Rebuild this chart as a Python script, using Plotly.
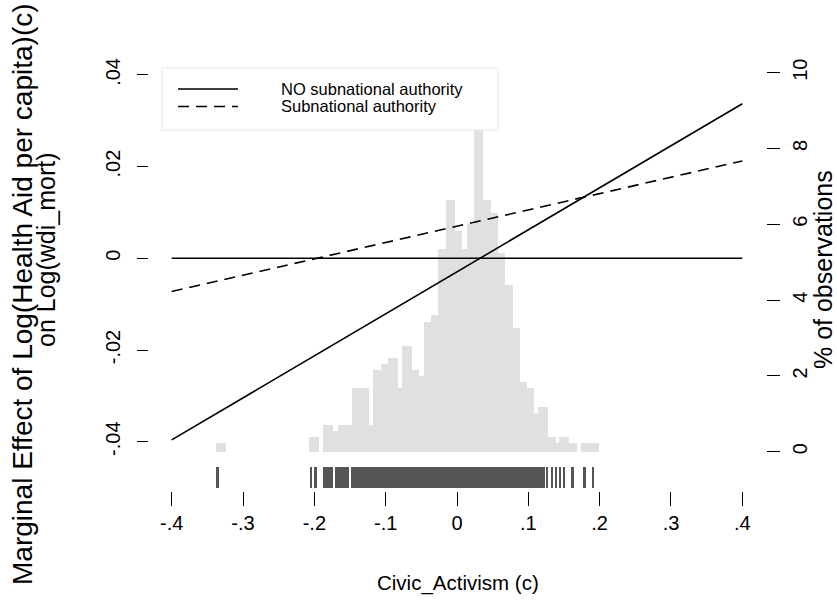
import plotly.graph_objects as go

# ---------------- data ----------------
# histogram of Civic_Activism (c): bin edges and % of observations
bin_left = [-0.3379, -0.2071, -0.1874, -0.1734, -0.1664, -0.1468, -0.1234, -0.1173,
            -0.1070, -0.0963, -0.0831, -0.0767, -0.0627, -0.0529, -0.0463, -0.0365,
            -0.0266, -0.0161, -0.0028, 0.0077, 0.0136, 0.0243, 0.0369, 0.0472,
            0.0579, 0.0673, 0.0778, 0.0883, 0.0977, 0.1080, 0.1140, 0.1280,
            0.1384, 0.1434, 0.1574, 0.1738]
bin_right = [-0.3238, -0.1930, -0.1734, -0.1664, -0.1476, -0.1234, -0.1173, -0.1070,
             -0.0963, -0.0831, -0.0767, -0.0627, -0.0529, -0.0463, -0.0365, -0.0266,
             -0.0161, -0.0028, 0.0077, 0.0136, 0.0243, 0.0369, 0.0472, 0.0579,
             0.0673, 0.0778, 0.0883, 0.0977, 0.1080, 0.1140, 0.1280, 0.1384,
             0.1434, 0.1574, 0.1678, 0.1991]
pct_obs = [0.23, 0.40, 0.70, 0.55, 0.70, 1.67, 0.70, 2.16,
           2.31, 2.46, 1.67, 2.79, 2.16, 2.00, 3.43, 3.60,
           5.35, 6.64, 5.82, 5.35, 6.00, 8.60, 6.64, 6.31,
           5.24, 4.40, 3.27, 1.83, 1.67, 1.03, 1.19, 0.40,
           0.22, 0.38, 0.22, 0.22]

# rug of observed Civic_Activism values (groups of marks)
rug_left = [-0.3383, -0.2061, -0.2005, -0.1874, -0.1710, -0.1486, 0.1244, 0.1318,
            0.1374, 0.1434, 0.1490, 0.1594, 0.1762, 0.1888]
rug_right = [-0.3337, -0.2029, -0.1967, -0.1743, -0.1514, 0.1234, 0.1272, 0.1336,
             0.1398, 0.1458, 0.1518, 0.1640, 0.1804, 0.1925]
rug_top = -0.04552
rug_bottom = -0.05003

# marginal effect lines
civic_x = [-0.4, 0.4]
me_no_subnational = [-0.0396, 0.0337]
me_subnational = [-0.00724, 0.02124]
zero_ref = [0.0, 0.0]

x_tick_vals = [-0.4, -0.3, -0.2, -0.1, 0.0, 0.1, 0.2, 0.3, 0.4]
x_tick_text = ["-.4", "-.3", "-.2", "-.1", "0", ".1", ".2", ".3", ".4"]
y_tick_vals = [-0.04, -0.02, 0.0, 0.02, 0.04]
y_tick_text = ["-.04", "-.02", "0", ".02", ".04"]
pct_tick_vals = [0, 2, 4, 6, 8, 10]
pct_tick_text = ["0", "2", "4", "6", "8", "10"]

legend_names = ["NO subnational authority", "Subnational authority"]
x_title = "Civic_Activism (c)"
y_title_lines = ["Marginal Effect of Log(Health Aid per capita)(c)", "on Log(wdi_mort)"]
y2_title = "% of observations"

# ---------------- figure ----------------
W, H = 837, 602
ML, MR, MT, MB = 149, 71, 60, 111
FONT = "Liberation Sans, Arial, Helvetica, sans-serif"

fig = go.Figure()

hist_x = [(a + b) / 2 for a, b in zip(bin_left, bin_right)]
hist_w = [b - a for a, b in zip(bin_left, bin_right)]
fig.add_trace(go.Bar(x=hist_x, y=pct_obs, width=hist_w, yaxis="y",
                     marker=dict(color="#e0e0e0", line=dict(width=0)),
                     showlegend=False, hoverinfo="skip"))

rug_x = [(a + b) / 2 for a, b in zip(rug_left, rug_right)]
rug_w = [b - a for a, b in zip(rug_left, rug_right)]
fig.add_trace(go.Bar(x=rug_x, y=[rug_top - rug_bottom] * len(rug_x),
                     base=[rug_bottom] * len(rug_x), width=rug_w, yaxis="y2",
                     marker=dict(color="#555555", line=dict(width=0)),
                     showlegend=False, hoverinfo="skip"))

fig.add_trace(go.Scatter(x=civic_x, y=zero_ref, mode="lines", yaxis="y2",
                         line=dict(color="black", width=1.6), showlegend=False))
fig.add_trace(go.Scatter(x=civic_x, y=me_no_subnational, mode="lines", yaxis="y2",
                         name=legend_names[0], line=dict(color="black", width=1.6),
                         showlegend=False))
fig.add_trace(go.Scatter(x=civic_x, y=me_subnational, mode="lines", yaxis="y2",
                         name=legend_names[1],
                         line=dict(color="black", width=1.6, dash="11px,7px"),
                         showlegend=False))

pw, ph = W - ML - MR, H - MT - MB


def px(xp):
    return (xp - ML) / pw


def py(yp):
    return (H - MB - yp) / ph


# legend drawn as a boxed key
shapes = [
    dict(type="rect", xref="paper", yref="paper", x0=px(162), x1=px(498),
         y0=py(130), y1=py(68), fillcolor="white",
         line=dict(color="#e8e8e8", width=1), layer="above"),
    dict(type="line", xref="paper", yref="paper", x0=px(178), x1=px(238),
         y0=py(89), y1=py(89), line=dict(color="black", width=1.6), layer="above"),
    dict(type="line", xref="paper", yref="paper", x0=px(178), x1=px(238),
         y0=py(106.5), y1=py(106.5), line=dict(color="black", width=1.6, dash="11px,7px"),
         layer="above"),
]
annotations = [
    dict(xref="paper", yref="paper", x=px(280), y=py(88.5), text=legend_names[0],
         showarrow=False, xanchor="left", yanchor="middle", borderpad=0,
         font=dict(family=FONT, size=16.5, color="black")),
    dict(xref="paper", yref="paper", x=px(280), y=py(106.5), text=legend_names[1],
         showarrow=False, xanchor="left", yanchor="middle", borderpad=0,
         font=dict(family=FONT, size=16.5, color="black")),
    # axis titles
    dict(xref="paper", yref="paper", x=px(458), y=py(583), text=x_title,
         showarrow=False, xanchor="center", yanchor="middle",
         font=dict(family=FONT, size=20.5, color="black")),
    dict(xref="paper", yref="paper", x=px(22), y=py(294), text=y_title_lines[0],
         textangle=-90, showarrow=False, xanchor="center", yanchor="middle",
         borderpad=0, font=dict(family=FONT, size=28, color="black")),
    dict(xref="paper", yref="paper", x=px(46), y=py(250), text=y_title_lines[1],
         textangle=-90, showarrow=False, xanchor="center", yanchor="middle",
         borderpad=0, font=dict(family=FONT, size=25, color="black")),
    dict(xref="paper", yref="paper", x=px(823), y=py(270), text=y2_title,
         textangle=-90, showarrow=False, xanchor="center", yanchor="middle",
         borderpad=0, font=dict(family=FONT, size=25, color="black")),
]

fig.update_layout(
    width=W, height=H,
    margin=dict(l=ML, r=MR, t=MT, b=MB, autoexpand=False),
    paper_bgcolor="white", plot_bgcolor="white",
    font=dict(family=FONT, color="black"),
    barmode="overlay", bargap=0,
    shapes=shapes, annotations=annotations,
    xaxis=dict(range=[-0.4318, 0.4332], tickvals=x_tick_vals, ticktext=x_tick_text,
               ticks="outside", ticklen=14, tickwidth=1.3, tickcolor="black",
               showline=False, showgrid=False, zeroline=False, automargin=False,
               tickfont=dict(size=20), ticklabelstandoff=0),
    yaxis=dict(side="right", range=[-1.037, 10.335], tickvals=pct_tick_vals,
               ticktext=pct_tick_text, ticks="outside", ticklen=13, tickwidth=1.3,
               tickcolor="black", tickangle=-90, showline=False, showgrid=False,
               zeroline=False, automargin=False, tickfont=dict(size=20),
               ticklabelstandoff=3),
    yaxis2=dict(side="left", overlaying="y", range=[-0.05075, 0.04325],
                tickvals=y_tick_vals, ticktext=y_tick_text, ticks="outside",
                ticklen=11, tickwidth=1.3, tickcolor="black", tickangle=-90,
                showline=False, showgrid=False, zeroline=False, automargin=False,
                tickfont=dict(size=20), ticklabelstandoff=9),
)

fig.write_html("out.html", config={"displayModeBar": False},
               post_script="document.body.style.margin='0px';")
